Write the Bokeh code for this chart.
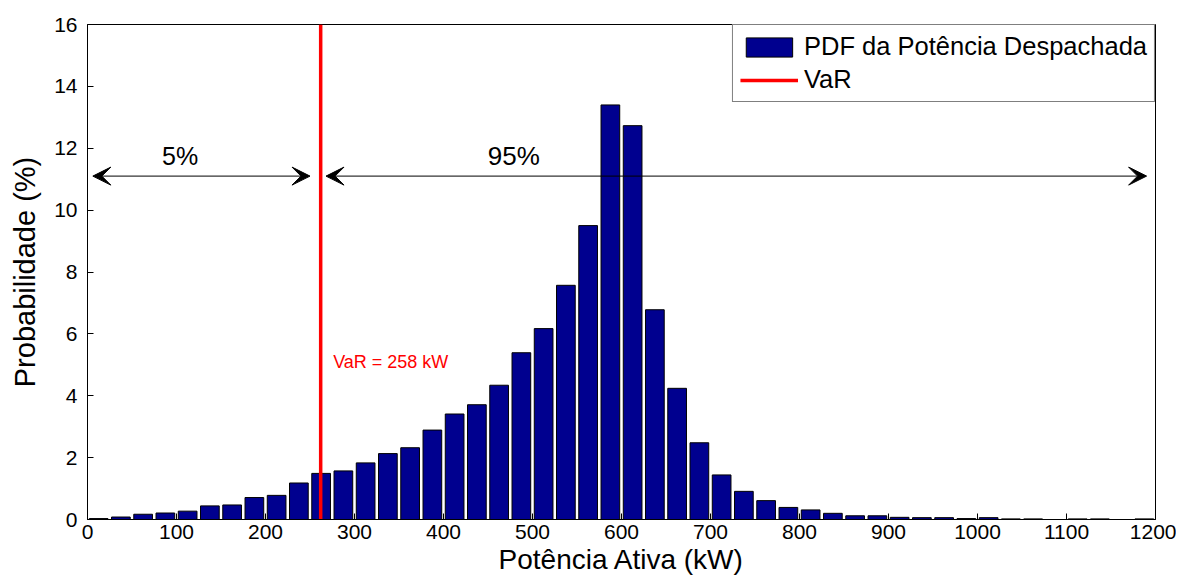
from bokeh.plotting import figure
from bokeh.models import Range1d, Arrow, VeeHead, Label, FixedTicker, ColumnDataSource
from bokeh.embed import file_html
from bokeh.resources import INLINE

# ---- data ----
bin_centers = [12.5 + 25 * k for k in range(48)]
probability = [0.03, 0.08, 0.17, 0.21, 0.27, 0.44, 0.47, 0.71, 0.78, 1.18,
               1.49, 1.57, 1.83, 2.13, 2.32, 2.89, 3.41, 3.71, 4.34, 5.39,
               6.17, 7.57, 9.50, 13.40, 12.73, 6.78, 4.24, 2.48, 1.44, 0.91,
               0.61, 0.39, 0.31, 0.20, 0.12, 0.12, 0.07, 0.06, 0.06, 0.03,
               0.06, 0.02, 0.02, 0.0, 0.02, 0.02, 0.0, 0.02]
var_position = 262
var_label = "VaR = 258 kW"
x_ticks = list(range(0, 1201, 100))
y_ticks = list(range(0, 17, 2))
left_arrow = (6, 250)
right_arrow = (268, 1190)
arrow_level = 11.1

FONT = "Liberation Sans"

p = figure(width=1176, height=577, output_backend="svg", toolbar_location=None,
           x_range=Range1d(0, 1200), y_range=Range1d(0, 16),
           min_border_left=87, min_border_right=21, min_border_top=24, min_border_bottom=56)

src = ColumnDataSource(dict(x=bin_centers, top=probability))
p.vbar(x="x", top="top", width=21, bottom=0, source=src, fill_color="#00008F",
       line_color="black", line_width=1, legend_label="PDF da Potência Despachada")
p.line(x=[var_position, var_position], y=[0, 16], line_color="#FF0000", line_width=3.5,
       legend_label="VaR")

for (xs, xe) in (left_arrow, right_arrow):
    p.add_layout(Arrow(x_start=xs, y_start=arrow_level, x_end=xe, y_end=arrow_level,
                       line_color="black", line_width=1,
                       start=VeeHead(size=18, fill_color="black", line_color="black"),
                       end=VeeHead(size=18, fill_color="black", line_color="black")))

p.add_layout(Label(x=104, y=11.75, text="5%", text_align="center", text_baseline="middle",
                   text_font=FONT, text_font_size="25px", text_color="black"))
p.add_layout(Label(x=479, y=11.75, text="95%", text_align="center", text_baseline="middle",
                   text_font=FONT, text_font_size="26px", text_color="black"))
p.add_layout(Label(x=276, y=5.1, text=var_label, text_align="left", text_baseline="middle",
                   text_font=FONT, text_font_size="18px", text_color="#FF0000"))

p.xgrid.visible = False
p.ygrid.visible = False
p.outline_line_color = "black"
p.outline_line_alpha = 1
p.outline_line_width = 1

for ax in (p.xaxis[0], p.yaxis[0]):
    ax.major_label_text_font = FONT
    ax.major_label_text_font_size = "21px"
    ax.major_label_text_color = "black"
    ax.axis_label_text_font = FONT
    ax.axis_label_text_font_style = "normal"
    ax.axis_label_text_color = "black"
    ax.axis_line_color = "black"
    ax.major_tick_in = 6
    ax.major_tick_out = 0
    ax.minor_tick_in = 0
    ax.minor_tick_out = 0

p.xaxis[0].ticker = FixedTicker(ticks=x_ticks)
p.yaxis[0].ticker = FixedTicker(ticks=y_ticks)
p.xaxis[0].axis_label = "Potência Ativa (kW)"
p.yaxis[0].axis_label = "Probabilidade (%)"
p.xaxis[0].axis_label_text_font_size = "28px"
p.yaxis[0].axis_label_text_font_size = "29px"
p.xaxis[0].major_label_standoff = 5
p.xaxis[0].axis_label_standoff = 2
p.yaxis[0].major_label_standoff = 10
p.yaxis[0].axis_label_standoff = 10

lg = p.legend[0]
lg.location = "top_right"
lg.margin = 0
lg.padding = 7
lg.spacing = 4
lg.border_line_color = "black"
lg.border_line_width = 1
lg.label_text_font = FONT
lg.label_text_font_size = "25.5px"
lg.label_text_color = "black"
lg.glyph_width = 58
lg.glyph_height = 24
lg.label_height = 26
lg.label_standoff = 6
lg.background_fill_alpha = 1

open("out.html", "w").write(file_html(p, INLINE))
